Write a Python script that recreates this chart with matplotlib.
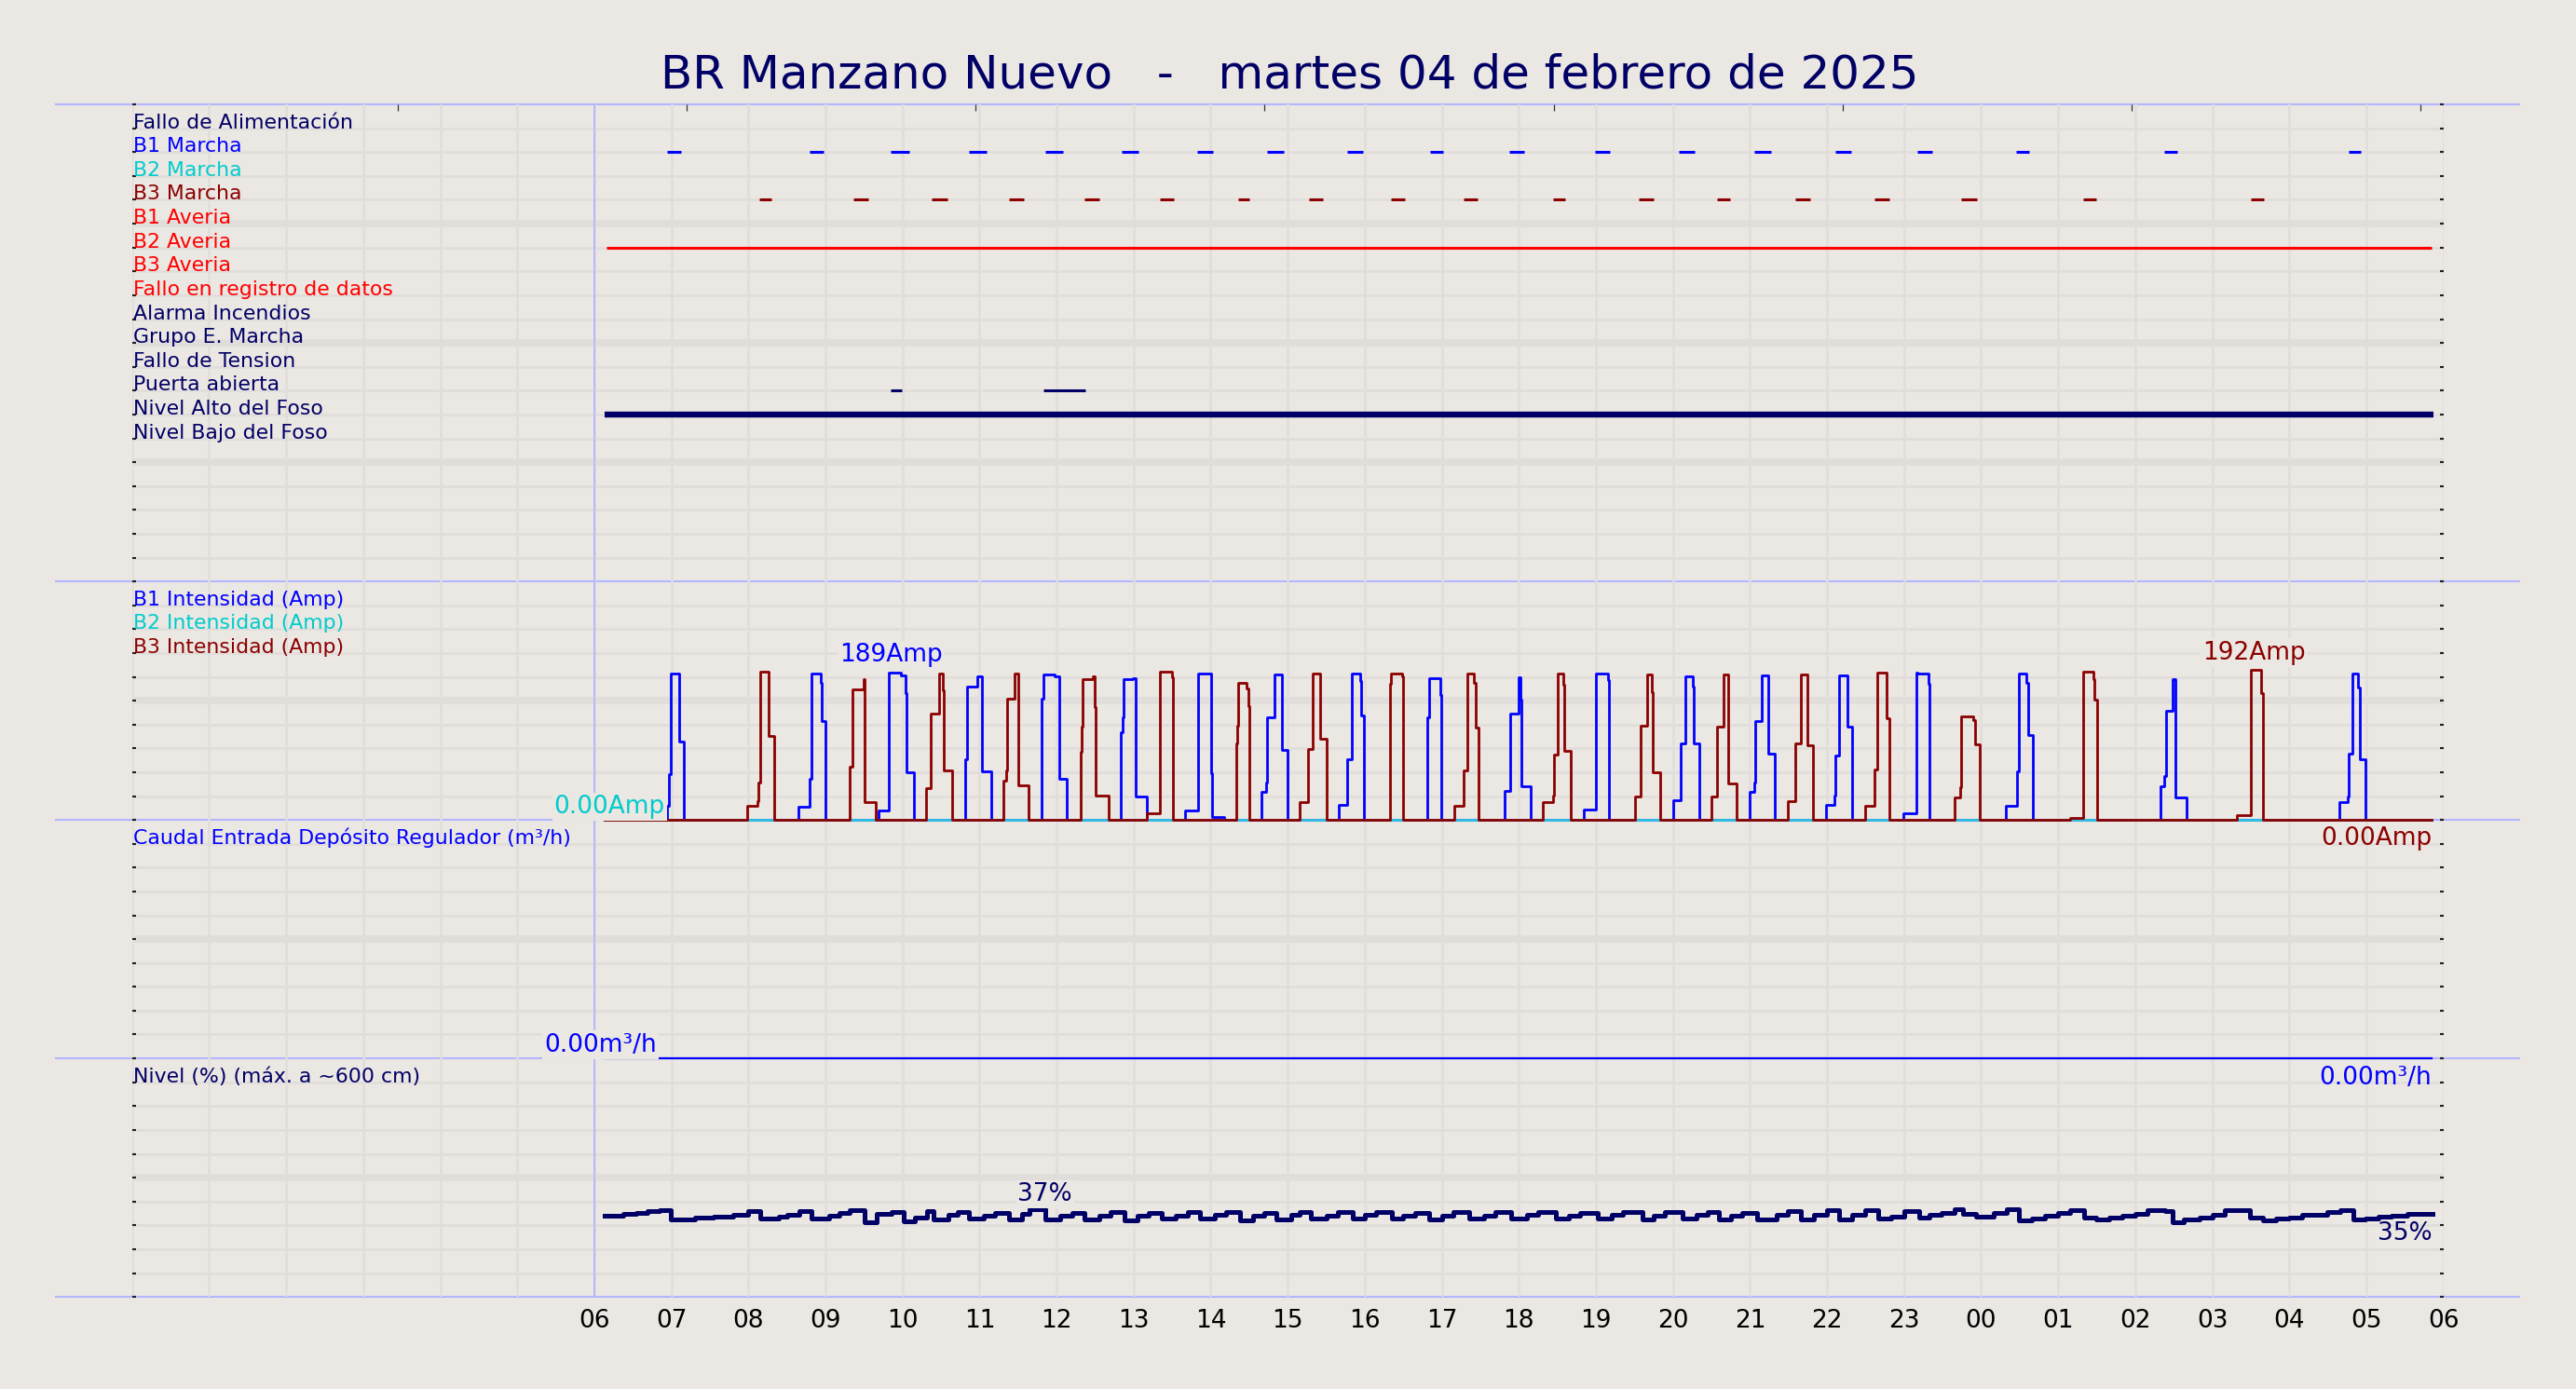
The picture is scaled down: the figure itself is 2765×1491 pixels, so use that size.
import matplotlib
matplotlib.use('Agg')
import matplotlib.pyplot as plt
from matplotlib.lines import Line2D
import numpy as np

# ---------------- data ----------------
title = "BR Manzano Nuevo   -   martes 04 de febrero de 2025"

event_labels = ["Fallo de Alimentación", "B1 Marcha", "B2 Marcha", "B3 Marcha",
                "B1 Averia", "B2 Averia", "B3 Averia", "Fallo en registro de datos",
                "Alarma Incendios", "Grupo E. Marcha", "Fallo de Tension",
                "Puerta abierta", "Nivel Alto del Foso", "Nivel Bajo del Foso"]
event_colors = ["#000066", "#0000ff", "#00cccc", "#8b0000",
                "#ff0000", "#ff0000", "#ff0000", "#ff0000",
                "#000066", "#000066", "#000066", "#000066", "#000066", "#000066"]

# hours from 00:00 of day 1 (axis spans 0..30 h)
b1_marcha = [(6.95, 7.12), (8.80, 8.97), (9.85, 10.09), (10.86, 11.09), (11.85, 12.08),
             (12.85, 13.06), (13.82, 14.03), (14.73, 14.95), (15.77, 15.98), (16.85, 17.02),
             (17.88, 18.07), (18.99, 19.18), (20.08, 20.28), (21.06, 21.27), (22.11, 22.31),
             (23.17, 23.36), (24.45, 24.62), (26.38, 26.55), (28.77, 28.93)]
b3_marcha = [(8.14, 8.30), (9.36, 9.56), (10.38, 10.59), (11.38, 11.57), (12.36, 12.55),
             (13.34, 13.52), (14.36, 14.50), (15.27, 15.46), (16.34, 16.52), (17.28, 17.46),
             (18.44, 18.60), (19.56, 19.75), (20.57, 20.74), (21.59, 21.78), (22.62, 22.81),
             (23.74, 23.95), (25.33, 25.49), (27.50, 27.67)]
b2_averia = [(6.16, 29.85)]
puerta = [(9.85, 9.99), (11.83, 12.37)]
nivel_alto = [(6.13, 29.87)]

b1_t = [6.13,
        6.948, 6.968, 6.992, 7.10, 7.168,
        8.655, 8.792, 8.816, 8.936, 8.952, 8.996,
        9.685, 9.818, 9.978, 10.038, 10.058, 10.15,
        10.808, 10.844, 10.968, 11.036, 11.148,
        11.81, 11.83, 11.97, 12.03, 12.13,
        12.839, 12.855, 12.867, 12.992, 13.032, 13.173,
        13.663, 13.835, 14.004, 14.016, 14.177,
        14.659, 14.719, 14.731, 14.831, 14.92, 15.0,
        15.663, 15.771, 15.831, 15.944, 15.956, 15.992,
        16.815, 16.835, 16.98, 16.996,
        17.819, 17.884, 17.992, 18.02, 18.032, 18.153,
        18.839, 19.0, 19.153, 19.173,
        20.004, 20.096, 20.165, 20.253, 20.265, 20.337,
        21.0, 21.056, 21.072, 21.157, 21.237, 21.321,
        21.984, 22.092, 22.104, 22.153, 22.261, 22.325,
        22.988, 23.157, 23.177, 23.317, 23.329,
        24.324, 24.465, 24.493, 24.59, 24.606, 24.67,
        26.328, 26.38, 26.396, 26.489, 26.517, 26.662,
        28.65, 28.763, 28.775, 28.823, 28.895, 28.915, 28.984,
        29.85]
b1_amp = [0,
          17.9, 58.8, 187.8, 100.0, 0,
          16.7, 52.4, 187.8, 175.9, 126.2, 0,
          11.9, 189.0, 184.6, 162.8, 60.7, 0,
          77.4, 170.7, 183.4, 62.3, 0,
          154.8, 185.8, 183.4, 52.4, 0,
          112.0, 131.0, 179.8, 181.0, 30.6, 0,
          12.7, 187.8, 59.5, 4.0, 0,
          35.7, 47.6, 131.0, 185.8, 90.1, 0,
          19.9, 77.4, 187.8, 177.5, 133.8, 0,
          131.8, 181.0, 160.0, 0,
          37.7, 135.8, 182.6, 154.0, 42.9, 0,
          13.9, 187.8, 178.6, 0,
          25.8, 98.5, 183.4, 170.7, 98.5, 0,
          35.7, 47.6, 126.2, 184.6, 85.4, 0,
          19.9, 31.0, 82.6, 184.6, 119.1, 0,
          9.1, 189.0, 187.8, 174.7, 0,
          17.9, 62.3, 187.8, 175.5, 108.4, 0,
          42.9, 56.4, 140.1, 180.6, 28.6, 0,
          22.6, 29.8, 84.6, 187.4, 169.5, 78.2, 0,
          0]

b3_t = [6.13,
        7.99, 8.122, 8.134, 8.154, 8.263, 8.335,
        9.317, 9.353, 9.497, 9.513, 9.657,
        10.307, 10.371, 10.479, 10.527, 10.539, 10.639,
        11.309, 11.341, 11.361, 11.457, 11.509, 11.637,
        12.311, 12.323, 12.339, 12.471, 12.499, 12.511, 12.679,
        13.173, 13.341, 13.494, 13.506,
        14.337, 14.349, 14.357, 14.47, 14.486, 14.498,
        15.153, 15.265, 15.321, 15.426, 15.502,
        16.325, 16.337, 16.486, 16.498,
        17.157, 17.277, 17.329, 17.422, 17.438, 17.482,
        18.313, 18.446, 18.458, 18.506, 18.578, 18.590, 18.679,
        19.51, 19.582, 19.663, 19.723, 19.743, 19.835,
        20.494, 20.578, 20.659, 20.715, 20.827,
        21.49, 21.59, 21.659, 21.743, 21.823,
        22.494, 22.614, 22.647, 22.767, 22.815,
        23.651, 23.727, 23.739, 23.9, 23.92, 23.988,
        25.153, 25.33, 25.455, 25.475, 25.503,
        27.322, 27.495, 27.636, 27.664,
        29.85]
b3_amp = [0,
          17.9, 24.6, 47.6, 190.0, 108.0, 0,
          68.3, 167.5, 180.6, 22.6, 0,
          40.5, 136.6, 187.8, 166.0, 63.5, 0,
          50.8, 63.5, 154.8, 187.8, 44.9, 0,
          87.3, 119.1, 179.8, 183.8, 144.9, 31.8, 0,
          9.1, 190.0, 182.6, 0,
          98.5, 121.1, 175.9, 167.9, 146.1, 0,
          22.6, 91.3, 188.0, 104.4, 0,
          174.7, 187.8, 183.8, 0,
          17.9, 63.5, 187.8, 175.5, 117.9, 0,
          22.6, 31.0, 83.4, 187.8, 173.5, 88.1, 0,
          30.6, 121.1, 186.6, 164.0, 61.5, 0,
          29.8, 119.1, 186.6, 46.4, 0,
          23.8, 98.5, 186.6, 96.1, 0,
          18.7, 64.3, 189.0, 129.8, 0,
          28.6, 41.7, 133.0, 127.8, 97.3, 0,
          3.2, 190.0, 180.6, 153.6, 0,
          6.7, 192.0, 162.8, 0,
          0]

b2_t = [6.13, 29.85]
b2_amp = [0, 0]

caudal_t = [6.13, 29.85]
caudal_v = [0, 0]

nivel_t = [6.13, 6.37, 6.54, 6.69, 6.85, 6.99, 7.31, 7.55, 7.80, 8.00, 8.15, 8.39, 8.50, 8.66,
           8.82, 9.05, 9.18, 9.32, 9.51, 9.66, 9.86, 10.01, 10.16, 10.32, 10.40, 10.60, 10.72,
           10.86, 11.05, 11.20, 11.38, 11.55, 11.65, 11.85, 12.05, 12.20, 12.36, 12.55, 12.70,
           12.88, 13.05, 13.20, 13.36, 13.55, 13.70, 13.86, 14.05, 14.20, 14.38, 14.55, 14.70,
           14.85, 15.05, 15.15, 15.30, 15.50, 15.65, 15.85, 16.00, 16.15, 16.35, 16.50, 16.65,
           16.84, 17.00, 17.15, 17.35, 17.55, 17.70, 17.90, 18.10, 18.25, 18.48, 18.65, 18.80,
           19.02, 19.20, 19.35, 19.60, 19.75, 19.90, 20.12, 20.30, 20.45, 20.60, 20.75, 20.90,
           21.09, 21.34, 21.49, 21.66, 21.83, 22.00, 22.16, 22.33, 22.49, 22.66, 22.83, 23.00,
           23.19, 23.33, 23.49, 23.66, 23.76, 23.93, 24.16, 24.33, 24.49, 24.66, 24.83, 25.00,
           25.16, 25.34, 25.49, 25.66, 25.83, 26.00, 26.16, 26.39, 26.49, 26.63, 26.83, 27.00,
           27.16, 27.49, 27.66, 27.83, 28.00, 28.16, 28.49, 28.66, 28.83, 28.99, 29.16, 29.33,
           29.53, 29.86]
nivel_v = [34.1, 34.7, 35.4, 36.0, 36.4, 32.4, 33.1, 33.8, 34.6, 36.2, 32.8, 33.7, 34.5, 36.0,
           32.8, 34.1, 35.4, 36.3, 31.4, 34.7, 35.5, 31.7, 33.4, 36.0, 32.6, 34.3, 35.6,
           32.9, 34.0, 35.3, 32.5, 35.0, 36.8, 32.6, 34.2, 35.4, 32.6, 34.1, 35.5,
           32.2, 33.9, 35.3, 32.7, 34.0, 35.6, 32.8, 34.4, 35.6, 32.3, 34.0, 35.4,
           32.6, 34.3, 35.5, 32.8, 34.2, 35.6, 32.9, 34.5, 35.8, 32.7, 34.0, 35.3,
           32.5, 34.2, 35.5, 32.8, 34.1, 35.6, 32.9, 34.5, 35.8, 32.7, 34.2, 35.4,
           32.7, 34.4, 35.7, 32.6, 34.2, 35.6, 32.8, 34.3, 35.7, 32.5, 34.0, 35.3,
           32.4, 34.5, 36.0, 32.4, 34.5, 36.3, 32.4, 34.5, 36.3, 32.8, 33.7, 36.0,
           33.2, 34.5, 35.4, 36.7, 34.7, 33.7, 35.4, 36.7, 32.1, 32.8, 34.1, 35.4,
           36.3, 33.4, 32.4, 33.4, 34.1, 34.7, 36.3, 36.0, 31.5, 32.4, 33.4, 34.5,
           36.3, 33.4, 32.1, 32.8, 33.4, 34.5, 35.5, 36.3, 32.4, 32.9, 33.7, 34.1,
           35.0, 35.0]

hour_ticks = list(range(6, 31))
hour_labels = [f"{h % 24:02d}" for h in hour_ticks]
top_ticks = [3.45, 7.2, 10.95, 14.7, 18.45, 22.2, 25.95, 29.7]

assert len(b1_t) == len(b1_amp) and len(b3_t) == len(b3_amp) and len(nivel_t) == len(nivel_v)

# ---------------- style ----------------
BG = '#ebe7e2'
GRID = '#e1dddb'
SEP = '#b3b6ff'
NAVY = '#000066'
BLUE = '#0000ff'
CYAN = '#00cccc'
DRED = '#8b0000'
RED = '#ff0000'

fig = plt.figure(figsize=(27.65, 14.91), dpi=100, facecolor=BG)

L, W = 0.05125, 0.89728
ax_ev = fig.add_axes([L, 0.58129, W, 0.34359])
ax_cur = fig.add_axes([L, 0.40959, W, 0.1717])
ax_q = fig.add_axes([L, 0.23810, W, 0.17149])
ax_lv = fig.add_axes([L, 0.06620, W, 0.1719])
ax_ev.set_zorder(4)
ax_cur.set_zorder(3)
ax_q.set_zorder(2)
ax_lv.set_zorder(1)


def style(ax, ymin, ymax, nrows, invert=False):
    ax.set_facecolor('none')
    ax.set_xlim(0, 30)
    ax.set_ylim((ymax, ymin) if invert else (ymin, ymax))
    for s in ax.spines.values():
        s.set_visible(False)
    rows = np.linspace(ymin, ymax, nrows + 1)
    for i, y in enumerate(rows):
        if i == 0 or i == nrows:
            continue
        thick = (i % 5 == 0)
        ax.axhline(y, color=GRID, lw=5.5 if thick else 2.0, zorder=0)
    for h in range(31):
        ax.axvline(h, color=GRID, lw=1.8, zorder=0)
    ax.axvline(6, color=SEP, lw=1.3, zorder=0.5)
    ax.set_yticks(rows)
    ax.tick_params(axis='y', direction='in', length=3, width=1.5, left=True, right=True,
                   labelleft=False, labelright=False, colors='#222222')
    ax.set_xticks([])


style(ax_ev, 0, 20, 20, invert=True)
style(ax_cur, 0, 305, 10)
style(ax_q, 0, 1, 10)
style(ax_lv, 0, 100, 10)

# top ticks on the events panel
sec = ax_ev.secondary_xaxis('top')
sec.set_xticks(top_ticks)
sec.set_xticklabels([''] * len(top_ticks))
sec.tick_params(direction='in', length=5, width=0.9, colors='#333333')
for s in sec.spines.values():
    s.set_visible(False)

# separators
for yf in [0.92488, 0.58129, 0.40959, 0.23810, 0.06620]:
    fig.add_artist(Line2D([0.0217, 0.978], [yf, yf], transform=fig.transFigure,
                          color=SEP, lw=1.5, zorder=-1))

fig.text(0.5006, 0.9457, title, ha='center', va='center', fontsize=36, color=NAVY)

# ---------------- events panel ----------------
for i, (lab, col) in enumerate(zip(event_labels, event_colors)):
    ax_ev.text(0.02, i + 1, lab, color=col, fontsize=15.8, ha='left', va='baseline', zorder=3)

def draw_events(ax, row, spans, color, lw):
    for s, e in spans:
        ax.hlines(row, s, e, color=color, lw=lw, zorder=3)

draw_events(ax_ev, 2, b1_marcha, BLUE, 2.2)
draw_events(ax_ev, 4, b3_marcha, DRED, 2.2)
draw_events(ax_ev, 6, b2_averia, RED, 2.2)
draw_events(ax_ev, 12, puerta, NAVY, 2.2)
draw_events(ax_ev, 13, nivel_alto, NAVY, 4.6)

# ---------------- current panel ----------------
ax_cur.plot(b1_t, b1_amp, drawstyle='steps-post', color=BLUE, lw=2.0, zorder=3, clip_on=False)
ax_cur.plot(b2_t, b2_amp, drawstyle='steps-post', color='#33c4e0', lw=2.0, zorder=3.1, clip_on=False)
ax_cur.plot(b3_t, b3_amp, drawstyle='steps-post', color=DRED, lw=2.0, zorder=3.2, clip_on=False)
for i, (lab, col) in enumerate([("B1 Intensidad (Amp)", BLUE), ("B2 Intensidad (Amp)", CYAN),
                                 ("B3 Intensidad (Amp)", DRED)]):
    ax_cur.text(0.02, 305 * (9 - i) / 10, lab, color=col, fontsize=15.8, ha='left', va='baseline', zorder=3)

box = dict(facecolor=BG, edgecolor='none', pad=1.5)
i1 = int(np.argmax(b1_amp))
ax_cur.annotate(f"{b1_amp[i1]:.0f}Amp", (b1_t[i1] + 0.03, b1_amp[i1]), xytext=(0, 4),
                textcoords='offset points', ha='center', va='bottom', fontsize=19, color=BLUE,
                bbox=box, zorder=5, annotation_clip=False)
i3 = int(np.argmax(b3_amp))
ax_cur.annotate(f"{b3_amp[i3]:.0f}Amp", (b3_t[i3] + 0.05, b3_amp[i3]), xytext=(0, 4),
                textcoords='offset points', ha='center', va='bottom', fontsize=19, color=DRED,
                bbox=box, zorder=5, annotation_clip=False)
ax_cur.annotate(f"{b2_amp[0]:.2f}Amp", (6.92, 0), xytext=(0, 1), textcoords='offset points',
                ha='right', va='bottom', fontsize=19, color=CYAN, bbox=box, zorder=5,
                annotation_clip=False)
ax_cur.annotate(f"{b3_amp[-1]:.2f}Amp", (b3_t[-1], 0), xytext=(0, -5), textcoords='offset points',
                ha='right', va='top', fontsize=19, color=DRED, zorder=5, annotation_clip=False)

# ---------------- caudal panel ----------------
ax_q.plot(caudal_t, caudal_v, drawstyle='steps-post', color=BLUE, lw=1.6, zorder=3, clip_on=False)
ax_q.text(0.02, 0.9, "Caudal Entrada Depósito Regulador (m³/h)", color=BLUE, fontsize=15.8,
          ha='left', va='baseline', zorder=3)
ax_q.annotate(f"{caudal_v[0]:.2f}m³/h", (6.81, 0), xytext=(0, 1), textcoords='offset points',
              ha='right', va='bottom', fontsize=19, color=BLUE, bbox=box, zorder=5,
              annotation_clip=False)
ax_q.annotate(f"{caudal_v[-1]:.2f}m³/h", (caudal_t[-1], 0), xytext=(0, -6), textcoords='offset points',
              ha='right', va='top', fontsize=19, color=BLUE, zorder=5, annotation_clip=False)

# ---------------- level panel ----------------
ax_lv.plot(nivel_t, nivel_v, drawstyle='steps-post', color=NAVY, lw=3.6, zorder=3)
ax_lv.text(0.02, 90, "Nivel (%) (máx. a ~600 cm)", color=NAVY, fontsize=15.8,
           ha='left', va='baseline', zorder=3)
iv = int(np.argmax(nivel_v))
ax_lv.annotate(f"{nivel_v[iv]:.0f}%", (nivel_t[iv] + 0.2, nivel_v[iv]), xytext=(0, 2),
               textcoords='offset points', ha='center', va='bottom', fontsize=19, color=NAVY,
               bbox=box, zorder=5)
ax_lv.annotate(f"{nivel_v[-1]:.0f}%", (nivel_t[-1], nivel_v[-1]), xytext=(0, -6),
               textcoords='offset points', ha='right', va='top', fontsize=19, color=NAVY, zorder=5)

ax_lv.set_xticks(hour_ticks)
ax_lv.set_xticklabels(hour_labels)
ax_lv.tick_params(axis='x', length=0, pad=9, labelsize=19, labelcolor='black')

fig.savefig('out.png', dpi=100, facecolor=BG)
